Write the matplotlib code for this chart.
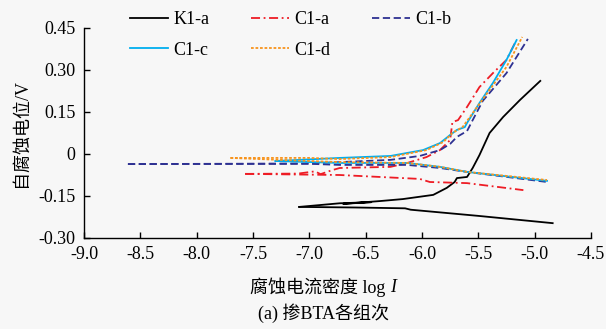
import matplotlib.pyplot as plt

plt.rcParams['font.family'] = ['Liberation Serif', 'Noto Sans CJK SC']
plt.rcParams['font.size'] = 13

# polarization curves: log I vs potential, cathodic and anodic branches
k1a_cat_x = [-7.09, -6.60, -6.15, -6.10, -5.50, -4.84]
k1a_cat_y = [-0.189, -0.191, -0.194, -0.199, -0.221, -0.247]
k1a_an_x = [-7.09, -6.73, -6.45, -6.70, -6.37, -6.17, -5.90, -5.78, -5.71,
            -5.69, -5.60, -5.55, -5.49, -5.40, -5.28, -5.13, -4.95]
k1a_an_y = [-0.189, -0.176, -0.172, -0.178, -0.168, -0.161, -0.146, -0.121,
            -0.100, -0.086, -0.082, -0.050, -0.004, 0.075, 0.132, 0.193, 0.261]

c1a_cat_x = [-7.57, -6.73, -6.02, -5.93, -5.60, -5.10]
c1a_cat_y = [-0.071, -0.075, -0.089, -0.100, -0.104, -0.129]
c1a_an_x = [-7.57, -7.10, -6.95, -6.90, -6.80, -6.73, -6.28, -6.13, -5.96,
            -5.84, -5.75, -5.73, -5.68, -5.60, -5.49, -5.37, -5.25, -5.17]
c1a_an_y = [-0.071, -0.070, -0.062, -0.072, -0.058, -0.050, -0.046, -0.032,
            -0.011, 0.014, 0.050, 0.114, 0.121, 0.168, 0.239, 0.289, 0.336, 0.400]

c1b_cat_x = [-8.61, -7.00, -6.73, -6.13, -5.84, -5.60, -4.89]
c1b_cat_y = [-0.036, -0.035, -0.039, -0.039, -0.050, -0.064, -0.100]
c1b_an_x = [-8.61, -7.00, -6.73, -6.28, -6.02, -5.84, -5.75, -5.69, -5.60,
            -5.55, -5.46, -5.40, -5.25, -5.06]
c1b_an_y = [-0.036, -0.034, -0.029, -0.021, -0.007, 0.014, 0.036, 0.061, 0.082,
            0.121, 0.190, 0.218, 0.289, 0.411]

c1c_cat_x = [-7.30, -6.73, -6.13, -5.84, -5.60, -4.89]
c1c_cat_y = [-0.025, -0.032, -0.032, -0.046, -0.064, -0.096]
c1c_an_x = [-7.30, -6.73, -6.28, -5.99, -5.84, -5.75, -5.69, -5.62, -5.60,
            -5.49, -5.37, -5.25, -5.16]
c1c_an_y = [-0.025, -0.014, -0.007, 0.014, 0.039, 0.068, 0.086, 0.096, 0.111,
            0.182, 0.254, 0.336, 0.407]

c1d_cat_x = [-7.70, -7.00, -6.73, -6.13, -5.84, -5.60, -4.89]
c1d_cat_y = [-0.014, -0.025, -0.029, -0.032, -0.046, -0.064, -0.093]
c1d_an_x = [-7.70, -7.00, -6.73, -6.28, -5.96, -5.81, -5.73, -5.64, -5.55,
            -5.51, -5.40, -5.25, -5.11]
c1d_an_y = [-0.014, -0.014, -0.018, -0.011, 0.014, 0.043, 0.075, 0.096, 0.146,
            0.168, 0.229, 0.311, 0.418]

xticks = [-9.0, -8.5, -8.0, -7.5, -7.0, -6.5, -6.0, -5.5, -5.0, -4.5]
yticks = [-0.30, -0.15, 0, 0.15, 0.30, 0.45]
ytick_labels = ['-0.30', '-0.15', '0', '0.15', '0.30', '0.45']

bg = '#f7f7f7'
fig = plt.figure(figsize=(6.06, 3.29), dpi=100, facecolor=bg)
ax = fig.add_axes([0.1386, 0.2766, 0.8366, 0.6383], facecolor=bg)

lw = 1.3
styles = [
    ('K1-a', k1a_cat_x, k1a_cat_y, k1a_an_x, k1a_an_y, dict(color='black', ls='-')),
    ('C1-a', c1a_cat_x, c1a_cat_y, c1a_an_x, c1a_an_y, dict(color='#ee1c25', ls=(0, (5, 2, 1, 2)))),
    ('C1-b', c1b_cat_x, c1b_cat_y, c1b_an_x, c1b_an_y, dict(color='#2e3192', ls=(0, (4, 2)))),
    ('C1-c', c1c_cat_x, c1c_cat_y, c1c_an_x, c1c_an_y, dict(color='#00aeef', ls='-')),
    ('C1-d', c1d_cat_x, c1d_cat_y, c1d_an_x, c1d_an_y, dict(color='#f7941d', ls=(0, (1.5, 1)))),
]
handles = {}
for name, cx, cy, axx, ay, st in styles:
    ax.plot(cx, cy, lw=lw, **st)
    handles[name], = ax.plot(axx, ay, lw=lw, label=name, **st)

ax.set_xlim(-9.0, -4.5)
ax.set_ylim(-0.30, 0.45)
ax.set_xticks(xticks)
ax.set_xticklabels([f'{v:.1f}' for v in xticks])
ax.set_yticks(yticks)
ax.set_yticklabels(ytick_labels)
ax.tick_params(direction='in', length=4, width=1, pad=6)
for s in ['top', 'right']:
    ax.spines[s].set_visible(False)
for s in ['left', 'bottom']:
    ax.spines[s].set_linewidth(1.0)

ax.set_ylabel('自腐蚀电位/V', fontsize=13, labelpad=6)

# x label: plain part plus an italic I, centred together
fig.canvas.draw()
r = fig.canvas.get_renderer()
xl_y = 1 - 287 / 329
cx = 323 / 606
t1 = fig.text(0, xl_y, '腐蚀电流密度 log ', ha='left', va='center', fontsize=13)
t2 = fig.text(0, xl_y, 'I', ha='left', va='center', fontsize=13, style='italic')
w1 = t1.get_window_extent(r).width / fig.bbox.width
w2 = t2.get_window_extent(r).width / fig.bbox.width
x0 = cx - (w1 + w2) / 2
t1.set_x(x0)
t2.set_x(x0 + w1)

fig.text(cx, 1 - 313 / 329, '(a) 掺BTA各组次', ha='center', va='center', fontsize=13)

order = ['K1-a', 'C1-c', 'C1-a', 'C1-d', 'C1-b']
fig.legend([handles[n] for n in order], order, loc='upper left',
           bbox_to_anchor=(130 / 606, 1 - 11 / 329), ncol=3,
           frameon=False, handlelength=2.1, handletextpad=0.3, columnspacing=2.3,
           labelspacing=0.75, borderpad=0, borderaxespad=0, fontsize=13)

fig.savefig('out.png', dpi=100, facecolor=bg)
